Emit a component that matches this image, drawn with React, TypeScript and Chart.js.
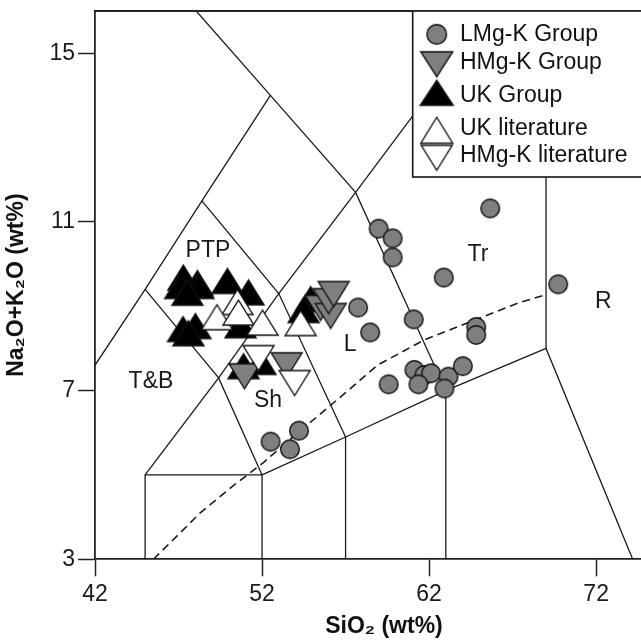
import React, { useEffect, useRef } from 'react';
import { Chart, registerables } from 'chart.js';

Chart.register(...registerables);

const FONT = '"Liberation Sans", Arial, Helvetica, sans-serif';

// ---- axis ticks ----
const xTicks = [42, 52, 62, 72];
const yTicks = [3, 7, 11, 15];

// ---- sample data (SiO2 wt%, Na2O+K2O wt%) ----
const lmgkGroup = [
  { x: 65.66, y: 11.32 }, { x: 58.98, y: 10.84 }, { x: 59.82, y: 10.61 }, { x: 59.82, y: 10.16 },
  { x: 62.88, y: 9.68 }, { x: 57.75, y: 8.97 }, { x: 61.08, y: 8.69 }, { x: 58.47, y: 8.38 },
  { x: 64.82, y: 8.51 }, { x: 64.82, y: 8.32 }, { x: 61.12, y: 7.49 }, { x: 61.72, y: 7.37 },
  { x: 62.12, y: 7.41 }, { x: 61.36, y: 7.15 }, { x: 59.58, y: 7.15 }, { x: 63.16, y: 7.33 },
  { x: 62.92, y: 7.05 }, { x: 64.02, y: 7.58 }, { x: 69.73, y: 9.52 }, { x: 52.51, y: 5.79 },
  { x: 53.67, y: 5.61 }, { x: 54.21, y: 6.05 },
];
const hmgkGroup = [
  { x: 55.51, y: 8.96 }, { x: 56.11, y: 8.77 }, { x: 55.99, y: 9.12 }, { x: 56.29, y: 9.29 },
  { x: 53.47, y: 7.6 }, { x: 50.95, y: 7.34 },
];
const ukGroup = [
  { x: 47.29, y: 9.68 }, { x: 48.13, y: 9.55 }, { x: 47.1, y: 9.48 }, { x: 48.19, y: 9.48 },
  { x: 47.53, y: 9.32 }, { x: 49.93, y: 9.6 }, { x: 51.19, y: 9.33 }, { x: 47.27, y: 8.46 },
  { x: 48.01, y: 8.53 }, { x: 47.59, y: 8.36 }, { x: 50.71, y: 8.55 }, { x: 50.89, y: 7.58 },
  { x: 51.91, y: 7.68 }, { x: 54.91, y: 9.17 }, { x: 54.49, y: 8.91 },
];
const ukLiterature = [
  { x: 50.53, y: 9.1 }, { x: 49.3, y: 8.74 }, { x: 50.59, y: 8.85 }, { x: 52.03, y: 8.61 },
  { x: 54.31, y: 8.6 },
];
const hmgkLiterature = [
  { x: 51.79, y: 7.77 }, { x: 53.95, y: 7.18 },
];

// ---- TAS field boundaries ----
const tasLineA = [{ x: 41, y: 7 }, { x: 45, y: 9.4 }, { x: 48.4, y: 11.5 }, { x: 52.5, y: 14 }];
const tasLineB = [{ x: 48.06, y: 16 }, { x: 52.5, y: 14 }, { x: 57.6, y: 11.7 }, { x: 63, y: 7 }];
const tasLineC = [{ x: 45, y: 9.4 }, { x: 49.4, y: 7.3 }, { x: 52, y: 5 }];
const tasLineD = [{ x: 48.4, y: 11.5 }, { x: 53, y: 9.3 }, { x: 57, y: 5.9 }];
const tasLineE = [{ x: 45, y: 5 }, { x: 49.4, y: 7.3 }, { x: 53, y: 9.3 }, { x: 57.6, y: 11.7 }, { x: 61, y: 13.5 }, { x: 62, y: 14 }];
const tasLineF = [{ x: 45, y: 3 }, { x: 45, y: 5 }, { x: 52, y: 5 }, { x: 52, y: 3 }];
const tasLineG = [{ x: 52, y: 5 }, { x: 57, y: 5.9 }, { x: 63, y: 7 }, { x: 69, y: 8 }, { x: 77.3, y: 0 }];
const tasLineH = [{ x: 57, y: 3 }, { x: 57, y: 5.9 }];
const tasLineI = [{ x: 63, y: 3 }, { x: 63, y: 7 }];
const tasLineJ = [{ x: 69, y: 8 }, { x: 69, y: 13 }];
const alkalineDivide = [
  { x: 45.5, y: 3.0 }, { x: 48.3, y: 4.1 }, { x: 50.3, y: 4.75 }, { x: 52.1, y: 5.3 },
  { x: 54, y: 5.95 }, { x: 55.5, y: 6.45 }, { x: 57, y: 6.95 }, { x: 58.9, y: 7.6 },
  { x: 61.7, y: 8.2 }, { x: 64.7, y: 8.67 }, { x: 67.5, y: 9.1 }, { x: 69.05, y: 9.28 },
];

// ---- field names ----
const fieldNames = ['PTP', 'T&B', 'Sh', 'L', 'Tr', 'R'];
const fieldX = [48.76, 45.35, 52.36, 57.27, 64.92, 72.43];
const fieldY = [10.31, 7.21, 6.76, 8.08, 10.23, 9.1];

// ---- legend ----
const legendLabels = ['LMg-K Group', 'HMg-K Group', 'UK Group', 'UK literature', 'HMg-K literature'];

function makeTriangle(up: boolean, fill: string, w = 31, h = 25, lw = 1.4) {
  const pad = 2;
  const c = document.createElement('canvas');
  c.width = Math.ceil(w + pad * 2);
  c.height = Math.ceil(h + pad * 2);
  const ctx = c.getContext('2d')!;
  ctx.beginPath();
  if (up) {
    ctx.moveTo(pad + w / 2, pad);
    ctx.lineTo(pad + w, pad + h);
    ctx.lineTo(pad, pad + h);
  } else {
    ctx.moveTo(pad, pad);
    ctx.lineTo(pad + w, pad);
    ctx.lineTo(pad + w / 2, pad + h);
  }
  ctx.closePath();
  ctx.fillStyle = fill;
  ctx.fill();
  ctx.strokeStyle = '#111';
  ctx.lineWidth = lw;
  ctx.stroke();
  return c;
}

function makeCircle(fill: string, r = 10, lw = 1.4) {
  const size = Math.ceil(r * 2 + 4);
  const c = document.createElement('canvas');
  c.width = size;
  c.height = size;
  const ctx = c.getContext('2d')!;
  ctx.beginPath();
  ctx.arc(size / 2, size / 2, r - lw / 2, 0, Math.PI * 2);
  ctx.fillStyle = fill;
  ctx.fill();
  ctx.strokeStyle = '#111';
  ctx.lineWidth = lw;
  ctx.stroke();
  return c;
}

function zeroPadding(s: any) {
  s.paddingTop = 0;
  s.paddingBottom = 0;
  s.paddingLeft = 0;
  s.paddingRight = 0;
}

export default function App() {
  const ref = useRef<HTMLCanvasElement | null>(null);

  useEffect(() => {
    if (!ref.current) return;
    const GRAY = '#7f7f7f';
    const mCircle = makeCircle(GRAY);
    const mGrayDown = makeTriangle(false, GRAY);
    const mBlackUp = makeTriangle(true, '#000');
    const mWhiteUp = makeTriangle(true, '#fff');
    const mWhiteDown = makeTriangle(false, '#fff');
    const legendMarkers = [
      makeCircle(GRAY, 10.5),
      makeTriangle(false, GRAY, 32, 25),
      makeTriangle(true, '#000', 33, 25),
      makeTriangle(true, '#fff', 32, 26),
      makeTriangle(false, '#fff', 31, 25),
    ];

    const pts = (label: string, data: any[], style: HTMLCanvasElement) => ({
      label,
      data,
      pointStyle: style,
      pointRadius: 10,
      pointHoverRadius: 10,
      showLine: false,
    });
    const line = (label: string, data: any[], dash: number[] = []) => ({
      label,
      data,
      showLine: true,
      pointRadius: 0,
      pointHoverRadius: 0,
      borderColor: '#1a1a1a',
      borderWidth: dash.length ? 1.6 : 1.3,
      borderDash: dash,
      tension: 0,
      fill: false,
    });

    const framePlugin = {
      id: 'tasDecor',
      afterDatasetsDraw(chart: any) {
        const { ctx, chartArea, scales } = chart;
        const xs = scales.x;
        const ys = scales.y;
        ctx.save();
        // frame (top & right)
        ctx.strokeStyle = '#222';
        ctx.lineWidth = 1.8;
        ctx.beginPath();
        ctx.moveTo(chartArea.left, chartArea.top);
        ctx.lineTo(chartArea.right, chartArea.top);
        ctx.lineTo(chartArea.right, chartArea.bottom);
        ctx.stroke();

        // field names
        ctx.fillStyle = '#1a1a1a';
        ctx.font = '23px ' + FONT;
        ctx.textAlign = 'center';
        ctx.textBaseline = 'middle';
        fieldNames.forEach((t, i) => {
          ctx.fillText(t, xs.getPixelForValue(fieldX[i]), ys.getPixelForValue(fieldY[i]));
        });

        // legend box
        const bl = chartArea.left + 317.7;
        const bt = chartArea.top;
        const bw = chartArea.right - bl + 5;
        const bh = 166;
        ctx.fillStyle = '#fff';
        ctx.fillRect(bl, bt, bw, bh);
        ctx.strokeStyle = '#222';
        ctx.lineWidth = 1.7;
        ctx.strokeRect(bl, bt, bw, bh);
        const markerY = [23.3, 53.3, 81.8, 119.3, 146.8];
        const textY = [30.3, 57.6, 91, 124.3, 151];
        const mx = bl + 24;
        ctx.textAlign = 'left';
        ctx.textBaseline = 'alphabetic';
        ctx.fillStyle = '#111';
        legendLabels.forEach((t, i) => {
          const m = legendMarkers[i];
          ctx.drawImage(m, mx - m.width / 2, bt + markerY[i] - m.height / 2);
          ctx.fillText(t, bl + 47.3, bt + textY[i]);
        });
        ctx.restore();
      },
    };

    const chart = new Chart(ref.current, {
      type: 'scatter',
      data: {
        datasets: [
          pts('HMg-K literature', hmgkLiterature, mWhiteDown),
          pts('UK literature', ukLiterature, mWhiteUp),
          pts('HMg-K Group', hmgkGroup, mGrayDown),
          pts('UK Group', ukGroup, mBlackUp),
          pts('LMg-K Group', lmgkGroup, mCircle),
          line('A', tasLineA),
          line('B', tasLineB),
          line('C', tasLineC),
          line('D', tasLineD),
          line('E', tasLineE),
          line('F', tasLineF),
          line('G', tasLineG),
          line('H', tasLineH),
          line('I', tasLineI),
          line('J', tasLineJ),
          line('alkaline', alkalineDivide, [8, 5]),
        ] as any,
      },
      options: {
        animation: false,
        responsive: false,
        events: [],
        layout: { padding: { top: 10.7, right: 0, bottom: 0, left: 0 } },
        plugins: {
          legend: { display: false },
          tooltip: { enabled: false },
        },
        scales: {
          x: {
            type: 'linear',
            min: 42,
            max: 76.6,
            afterBuildTicks: (s: any) => {
              s.ticks = xTicks.map((v) => ({ value: v }));
            },
            afterFit: (s: any) => {
              s.height = 80.7;
              zeroPadding(s);
            },
            grid: {
              drawOnChartArea: false,
              drawTicks: true,
              tickLength: 17,
              tickWidth: 1.5,
              tickColor: '#222',
            },
            border: { display: true, color: '#222', width: 1.8 },
            ticks: {
              padding: 5,
              color: '#1a1a1a',
              maxRotation: 0,
              autoSkip: false,
              font: { family: FONT, size: 23 },
            },
            title: {
              display: true,
              text: 'SiO₂ (wt%)',
              color: '#111',
              font: { family: FONT, size: 23, weight: 'bold' },
              padding: { top: 0, bottom: 0 },
            },
          },
          y: {
            type: 'linear',
            min: 3,
            max: 16,
            afterBuildTicks: (s: any) => {
              s.ticks = yTicks.map((v) => ({ value: v }));
            },
            afterFit: (s: any) => {
              s.width = 95;
              zeroPadding(s);
            },
            grid: {
              drawOnChartArea: false,
              drawTicks: true,
              tickLength: 17,
              tickWidth: 1.5,
              tickColor: '#222',
            },
            border: { display: true, color: '#222', width: 1.8 },
            ticks: {
              padding: 3,
              color: '#1a1a1a',
              autoSkip: false,
              font: { family: FONT, size: 23 },
            },
            title: {
              display: true,
              text: 'Na₂O+K₂O (wt%)',
              color: '#111',
              font: { family: FONT, size: 23, weight: 'bold' },
              padding: { top: 3, bottom: 0 },
            },
          },
        },
      } as any,
      plugins: [framePlugin],
    });
    return () => chart.destroy();
  }, []);

  return (
    <div
      style={{
        position: 'fixed',
        left: 0,
        top: 0,
        width: 641,
        height: 640,
        overflow: 'hidden',
        background: '#fff',
      }}
    >
      <canvas ref={ref} width={684} height={640} style={{ display: 'block' }} />
    </div>
  );
}
